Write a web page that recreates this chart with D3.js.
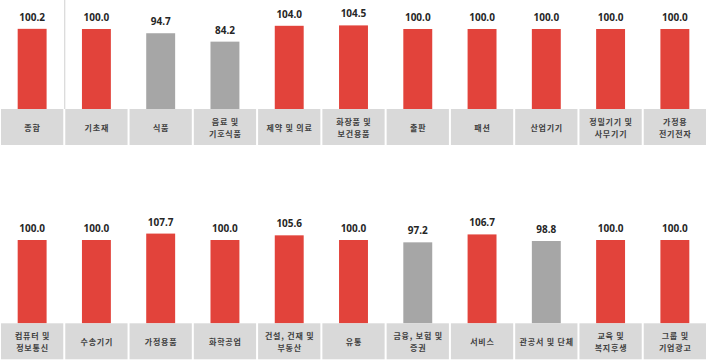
<!DOCTYPE html>
<head>
  <meta charset="utf-8">
  <script src="https://d3js.org/d3.v7.min.js"></script>
  <style>
    body { margin:0; background:#fff; }
  </style>
</head>
<body>
<script>
  // top row
  var topCats = ["종합", "기초재", "식품", "음료 및\n기호식품", "제약 및 의료", "화장품 및\n보건용품",
                 "출판", "패션", "산업기기", "정밀기기 및\n사무기기", "가정용\n전기전자"];
  var topVals = [100.2, 100.0, 94.7, 84.2, 104.0, 104.5, 100.0, 100.0, 100.0, 100.0, 100.0];

  // bottom row
  var botCats = ["컴퓨터 및\n정보통신", "수송기기", "가정용품", "화학공업", "건설, 건재 및\n부동산", "유통",
                 "금융, 보험 및\n증권", "서비스", "관공서 및 단체", "교육 및\n복지후생", "그룹 및\n기업광고"];
  var botVals = [100.0, 100.0, 107.7, 100.0, 105.6, 100.0, 97.2, 106.7, 98.8, 100.0, 100.0];

  var W = 707, H = 362;
  var svg = d3.select("body").append("svg")
    .attr("width", W)
    .attr("height", H);

  function drawRow(cats, vals, base, pxPerUnit, divider) {
    var x = d3.scaleBand()
      .domain(d3.range(cats.length))
      .range([0, W]);

    var y = d3.scaleLinear()
      .domain([0, 135])
      .range([base, base - 135 * pxPerUnit]);

    var g = svg.append("g");
    var bw = x.bandwidth() * 0.45;

    if (divider) {
      g.append("line")
        .attr("x1", x(1) + 0.5).attr("x2", x(1) + 0.5)
        .attr("y1", 0).attr("y2", base)
        .attr("stroke", "#d0d0d0")
        .attr("stroke-width", 1);
    }

    g.selectAll("rect.bar").data(vals).enter()
      .append("rect")
      .attr("class", "bar")
      .attr("x", function(d, i) { return x(i) + x.bandwidth() / 2 - bw / 2; })
      .attr("y", function(d) { return y(d); })
      .attr("width", bw)
      .attr("height", function(d) { return base - y(d); })
      .attr("fill", function(d) { return d < 100 ? "#a6a6a6" : "#e2433b"; });

    g.selectAll("text.val").data(vals).enter()
      .append("text")
      .attr("class", "val")
      .attr("x", function(d, i) { return x(i) + x.bandwidth() / 2; })
      .attr("y", function(d) { return y(d) - 8; })
      .attr("text-anchor", "middle")
      .style("font-family", "'Noto Sans', sans-serif")
      .style("font-weight", "bold")
      .style("font-size", "10px")
      .style("fill", "#262626")
      .text(function(d) { return d.toFixed(1); });

    // label boxes
    g.selectAll("rect.box").data(cats).enter()
      .append("rect")
      .attr("class", "box")
      .attr("x", function(d, i) { return x(i) + 1; })
      .attr("y", base)
      .attr("width", x.bandwidth() - 2)
      .attr("height", 36)
      .attr("fill", "#d9d9d9");

    var labels = g.selectAll("text.cat").data(cats).enter()
      .append("text")
      .attr("class", "cat")
      .attr("text-anchor", "middle")
      .style("font-family", "'Noto Sans CJK KR', sans-serif")
      .style("font-size", "8px")
      .style("letter-spacing", "0.8px")
      .style("font-weight", "bold")
      .style("fill", "#404040");

    labels.each(function(d, i) {
      var lines = d.split("\n");
      var cx = x(i) + x.bandwidth() / 2 + 0.4;
      var mid = base + 19;
      var t = d3.select(this);
      lines.forEach(function(l, j) {
        t.append("tspan")
          .attr("x", cx)
          .attr("y", mid + (j - (lines.length - 1) / 2) * 11.7)
          .attr("dy", "0.35em")
          .text(l);
      });
    });
  }

  drawRow(topCats, topVals, 109, 0.8, true);
  drawRow(botCats, botVals, 323.3, 0.833, false);
</script>
</body>
